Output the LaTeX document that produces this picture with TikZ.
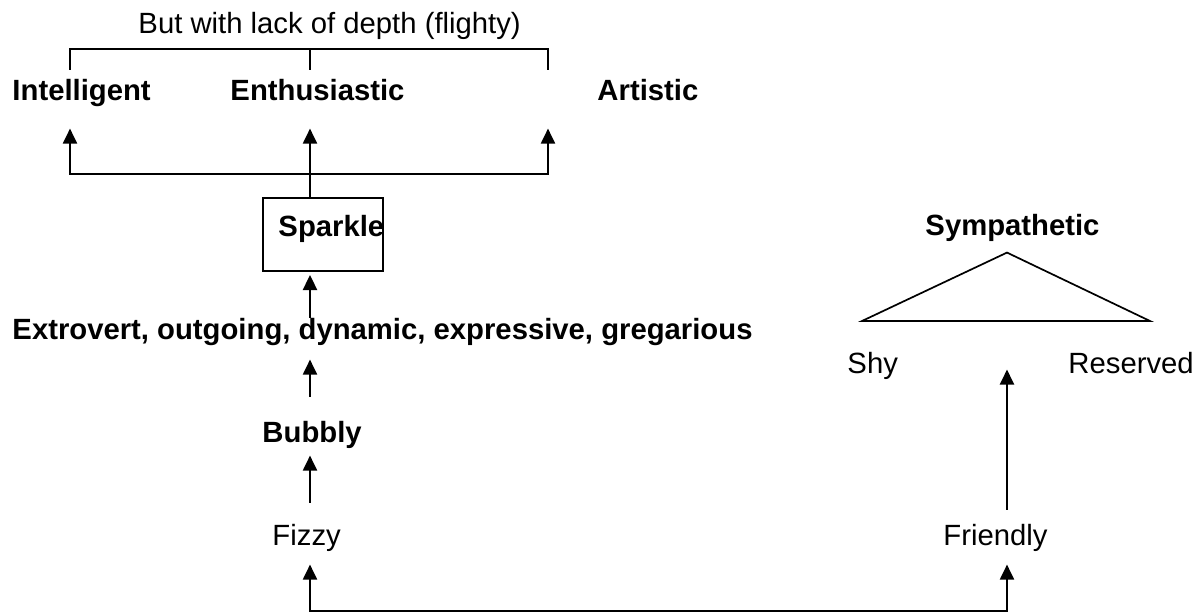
\documentclass[tikz,border=0pt]{standalone}
\usepackage{fontspec}
\setmainfont{Liberation Sans}
\usetikzlibrary{arrows.meta, calc}

\begin{document}
\begin{tikzpicture}[x=0.41pt, y=-0.41pt,
    every node/.style={inner sep=0pt, text height=8.6pt, text depth=2.5pt, font=\fontsize{12}{14}\selectfont},
    word/.style={anchor=base west},
    keyword/.style={anchor=base west, font=\fontsize{12}{14}\selectfont\bfseries},
    link/.style={line width=0.8pt},
    arrow/.style={link, -{Triangle[width=5.8pt, length=6.2pt]}},
    twoway/.style={link, {Triangle[width=5.8pt, length=6.2pt]}-{Triangle[width=5.8pt, length=6.2pt]}}]
    \useasboundingbox (0,0) rectangle (1200,615);
    \coordinate (col a) at (70,0);
    \coordinate (spine) at (310,0);
    \coordinate (col c) at (548,0);
    \coordinate (right spine) at (1007,0);

    \node[word] (flighty) at (138,33) {But with lack of depth (flighty)};
    \node[keyword] (intelligent) at (12,100) {Intelligent};
    \node[keyword] (enthusiastic) at (230,100) {Enthusiastic};
    \node[keyword] (artistic) at (597,100) {Artistic};
    \node[keyword] (sparkle text) at (278,236) {Sparkle};
    \node[draw, link, anchor=north west, minimum width=49.2pt, minimum height=29.93pt] (sparkle) at (262,197) {};
    \node[keyword] (extrovert) at (12,339) {Extrovert, outgoing, dynamic, expressive, gregarious};
    \node[keyword] (bubbly) at (262,442) {Bubbly};
    \node[word] (fizzy) at (272,545) {Fizzy};
    \node[word] (friendly) at (943,545) {Friendly};
    \node[keyword] (sympathetic) at (925,235) {Sympathetic};
    \node[word] (shy) at (847,373) {Shy};
    \node[word] (reserved) at (1068,373) {Reserved};

    \coordinate (brace) at ($(flighty.south -| spine)+(0,9)$);
    \draw[link] ($(intelligent.north -| col a)+(0,-9)$) |- (brace) -| ($(artistic.north -| col c)+(0,-9)$);
    \draw[link] (brace) -- ($(enthusiastic.north -| spine)+(0,-9)$);

    \coordinate (fork) at (310,174);
    \draw[arrow] (sparkle.north -| spine) -- ($(enthusiastic.south -| spine)+(0,22)$);
    \draw[arrow] (fork) -| ($(intelligent.south -| col a)+(0,22)$);
    \draw[arrow] (fork) -| ($(artistic.south -| col c)+(0,22)$);

    \draw[arrow] (extrovert.north -| spine) -- ($(sparkle.south -| spine)+(0,3)$);
    \draw[arrow] ($(bubbly.north -| spine)+(0,-24)$) -- ($(extrovert.south -| spine)+(0,14)$);
    \draw[arrow] ($(fizzy.north -| spine)+(0,-21)$) -- ($(bubbly.south -| spine)+(0,7)$);

    \coordinate (floor) at (0,611);
    \coordinate (fizzy in) at ($(fizzy.south -| spine)+(0,13)$);
    \coordinate (friendly in) at ($(friendly.south -| right spine)+(0,13)$);
    \draw[twoway] (fizzy in) -- (fizzy in |- floor) -| (friendly in);

    \coordinate (calm) at ($(shy.north -| right spine)+(0,18)$);
    \draw[arrow] ($(friendly.north -| right spine)+(0,-14)$) -- (calm);

    \coordinate (peak) at ($(sympathetic.south -| right spine)+(0,11)$);
    \draw[link, line width=0.7pt] (peak) -- (862,321) -- (1150,321) -- cycle;
\end{tikzpicture}
\end{document}
